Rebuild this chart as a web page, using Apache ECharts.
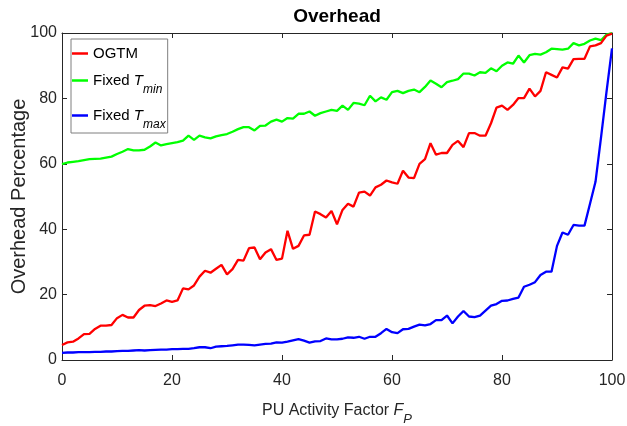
<!DOCTYPE html>
<html>
<head>
<meta charset="utf-8">
<script src="https://cdn.jsdelivr.net/npm/echarts@6/dist/echarts.min.js"></script>
<style>html,body{margin:0;padding:0;background:#fff}#c{width:627px;height:426px}</style>
</head>
<body>
<div id="c"></div>
<script>
var seriesNames = ['OGTM', 'Fixed T_min', 'Fixed T_max'];
var xTicks = [0, 20, 40, 60, 80, 100];
var yTicks = [0, 20, 40, 60, 80, 100];
var ogtm = [4.6,5.4,5.6,6.6,7.9,8.0,9.5,10.5,10.5,10.7,12.8,13.8,13.0,13.0,15.3,16.6,16.8,16.5,17.3,18.2,17.8,
18.2,21.9,21.6,22.8,25.5,27.3,26.7,27.9,29.1,26.2,27.8,30.6,30.4,34.2,34.4,30.8,32.9,33.9,30.6,31.0,
39.5,34.0,34.9,38.1,38.3,45.4,44.6,43.6,45.6,41.5,45.9,47.8,46.9,51.2,51.5,50.3,52.8,53.6,54.9,54.3,
53.9,57.9,55.8,55.6,60.0,61.4,66.3,62.8,63.3,63.3,65.8,67.0,65.1,69.4,69.4,68.6,68.6,72.4,77.2,77.8,
76.5,78.0,80.1,80.1,83.0,80.6,82.3,88.0,87.2,86.4,89.5,89.1,92.0,92.1,92.1,95.9,96.2,96.9,99.2,99.8];
var fixedTmin = [59.9,60.4,60.6,60.8,61.1,61.4,61.5,61.6,61.9,62.2,63.0,63.7,64.5,64.1,64.1,64.3,65.3,66.5,65.6,66.0,66.3,
66.6,67.1,68.6,67.3,68.6,68.1,67.8,68.4,68.8,69.1,69.8,70.6,71.2,71.2,70.2,71.6,71.7,72.9,73.5,72.9,
74.0,73.8,75.3,75.3,76.0,74.7,75.5,76.0,76.5,76.2,77.8,76.5,78.6,78.4,77.9,80.8,79.1,80.3,79.6,81.9,
82.3,81.6,82.3,82.7,81.9,83.5,85.5,84.5,83.4,85.0,85.4,85.9,87.6,87.6,87.0,88.0,87.8,89.2,88.3,90.0,
91.0,90.6,93.1,91.0,93.2,93.6,93.4,94.1,95.2,95.1,94.9,95.2,96.9,96.2,96.7,97.7,98.3,97.8,99.5,100];
var fixedTmax = [2.2,2.3,2.3,2.4,2.4,2.4,2.5,2.5,2.6,2.6,2.7,2.8,2.8,2.9,3.0,2.9,3.0,3.1,3.2,3.2,3.3,
3.3,3.4,3.4,3.6,3.9,3.9,3.6,4.1,4.2,4.3,4.5,4.7,4.7,4.6,4.5,4.7,4.9,5.0,5.4,5.3,
5.6,6.0,6.4,5.9,5.3,5.7,5.8,6.6,6.3,6.3,6.5,6.9,6.8,7.1,6.5,7.1,7.1,8.2,9.5,8.5,
8.2,9.4,9.5,10.2,10.8,10.6,11.0,12.2,12.2,13.6,11.2,13.3,15.0,13.3,13.1,13.6,15.1,16.6,17.1,18.1,
18.2,18.7,19.1,22.4,23.0,23.8,26.0,27.0,27.0,34.9,39.0,38.3,41.3,41.1,41.1,47.8,54.5,68.0,82.0,95.3];

function pairs(arr){ return arr.map(function(v,i){ return [i, v]; }); }

var SANS = "'Liberation Sans',Arial,Helvetica,sans-serif";
var axisColor = '#262626';

var chart = echarts.init(document.getElementById('c'), null, {renderer:'canvas'});
var legendRich = {
  n: {fontFamily: SANS, fontSize: 15, color: '#000', lineHeight: 18},
  i: {fontFamily: SANS, fontSize: 15, fontStyle: 'italic', color: '#000', lineHeight: 18},
  s: {fontFamily: SANS, fontSize: 12, fontStyle: 'italic', color: '#000', lineHeight: 12, padding: [19, 0, 0, 0]}
};
chart.setOption({
  animation: false,
  backgroundColor: '#fff',
  title: {
    text: 'Overhead', left: 337, top: 7, textAlign: 'center', padding: 0,
    textStyle: {fontFamily: SANS, fontSize: 19, fontWeight: 'bold', color: '#000'}
  },
  legend: {
    orient: 'vertical', left: 71, top: 39, itemGap: 4, itemWidth: 16, itemHeight: 2.5, icon: 'rect',
    padding: [7, 2, 2, 1], borderColor: '#7f7f7f', borderWidth: 1, borderRadius: 0, backgroundColor: '#fff',
    data: seriesNames,
    textStyle: {fontFamily: SANS, fontSize: 15, color: '#000', rich: legendRich},
    formatter: function(name){
      var p = name.split('_');
      if (p.length === 1) return '{n|' + name + '}';
      var base = p[0].replace(/T$/, '');
      return '{n|' + base + '}{i|T}{s|' + p[1] + '}';
    }
  },
  grid: {left: 62, right: 15, top: 33, bottom: 66, containLabel: false, outerBoundsMode: 'none'},
  xAxis: [{
    type: 'value', min: 0, max: 100, interval: 20, position: 'bottom',
    name: '{n|PU Activity Factor }{i|F}{s|P}', nameLocation: 'middle', nameGap: 42, nameMoveOverlap: false,
    nameTextStyle: {fontFamily: SANS, fontSize: 16, color: axisColor,
      rich: {n: {fontFamily: SANS, fontSize: 16, color: axisColor, lineHeight: 18},
             i: {fontFamily: SANS, fontSize: 16, fontStyle: 'italic', color: axisColor, lineHeight: 18},
             s: {fontFamily: SANS, fontSize: 13, fontStyle: 'italic', color: axisColor, lineHeight: 13, padding: [16,0,0,0]}}},
    axisLine: {onZero: false, lineStyle: {color: axisColor, width: 1}},
    axisTick: {inside: true, length: 5, lineStyle: {color: axisColor}},
    axisLabel: {fontFamily: SANS, fontSize: 16, color: axisColor, margin: 13,
      formatter: function(v){ return xTicks.indexOf(v) >= 0 ? String(v) : ''; }},
    splitLine: {show: false}
  }, {
    type: 'value', min: 0, max: 100, interval: 20, position: 'top',
    axisLine: {show: true, onZero: false, lineStyle: {color: axisColor, width: 1}},
    axisTick: {show: true, inside: true, length: 5, lineStyle: {color: axisColor}},
    axisLabel: {show: false}, splitLine: {show: false}
  }],
  yAxis: [{
    type: 'value', min: 0, max: 100, interval: 20, position: 'left',
    name: 'Overhead Percentage', nameLocation: 'middle', nameGap: 33, nameMoveOverlap: false,
    nameTextStyle: {fontFamily: SANS, fontSize: 20, color: axisColor},
    axisLine: {show: true, onZero: false, lineStyle: {color: axisColor, width: 1}},
    axisTick: {show: true, inside: true, length: 5, lineStyle: {color: axisColor}},
    axisLabel: {fontFamily: SANS, fontSize: 16, color: axisColor, margin: 5,
      formatter: function(v){ return yTicks.indexOf(v) >= 0 ? String(v) : ''; }},
    splitLine: {show: false}
  }, {
    type: 'value', min: 0, max: 100, interval: 20, position: 'right',
    axisLine: {show: true, onZero: false, lineStyle: {color: axisColor, width: 1}},
    axisTick: {show: true, inside: true, length: 5, lineStyle: {color: axisColor}},
    axisLabel: {show: false}, splitLine: {show: false}
  }],
  series: [
    {name: seriesNames[0], type: 'line', data: pairs(ogtm), showSymbol: false, symbol: 'none',
     lineStyle: {color: '#ff0000', width: 2.3}, itemStyle: {color: '#ff0000'}, z: 3},
    {name: seriesNames[1], type: 'line', data: pairs(fixedTmin), showSymbol: false, symbol: 'none',
     lineStyle: {color: '#00ff00', width: 2.3}, itemStyle: {color: '#00ff00'}, z: 2},
    {name: seriesNames[2], type: 'line', data: pairs(fixedTmax), showSymbol: false, symbol: 'none',
     lineStyle: {color: '#0000ff', width: 2.3}, itemStyle: {color: '#0000ff'}, z: 4}
  ]
});
</script>
</body>
</html>
